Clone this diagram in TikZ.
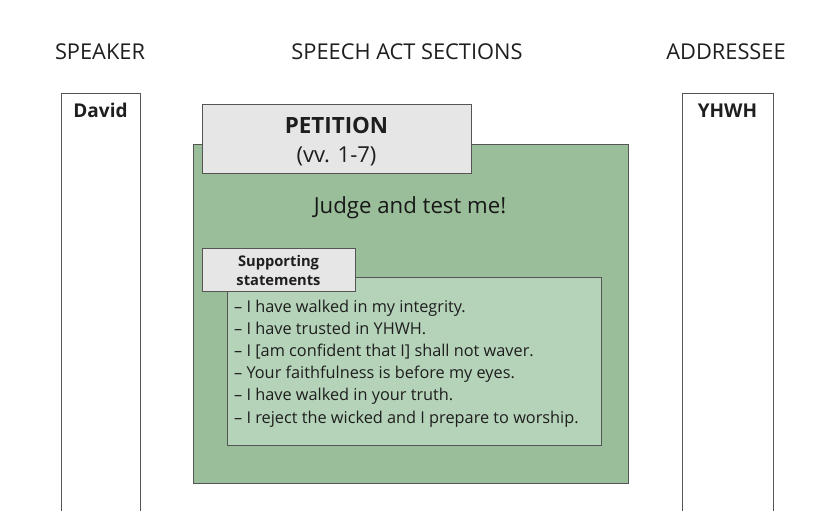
\documentclass[tikz,border=0pt]{standalone}
\usepackage{fontspec}
\setmainfont{Open Sans}
\definecolor{biggreen}{HTML}{99BE99}
\definecolor{smallgreen}{HTML}{B5D3B9}
\definecolor{labelgray}{HTML}{E6E6E6}
\definecolor{edgegray}{HTML}{555555}
\definecolor{ink}{HTML}{1E1E1E}
\begin{document}
\begin{tikzpicture}[x=1pt,y=-1pt,
  header/.style={font=\fontsize{21.8}{25}\selectfont, text=ink},
  colbox/.style={draw=edgegray, line width=1pt},
  tagbox/.style={draw=edgegray, line width=1pt, fill=labelgray, inner sep=0pt},
  namelabel/.style={font=\bfseries\fontsize{19}{22}\selectfont, text=ink}]
\useasboundingbox (0,0) rectangle (825,511);
% headers
\node[header] (hspk) at (100,52) {SPEAKER};
\node[header] (hsec) at (407,52) {SPEECH ACT SECTIONS};
\node[header] (hadr) at (726,52) {ADDRESSEE};
% speaker and addressee columns
\draw[colbox] (61,511) -- (61,94) -- (140,94) -- (140,511);
\node[namelabel] (david) at (100.5,110) {David};
\draw[colbox] (682,511) -- (682,94) -- (773,94) -- (773,511);
\node[namelabel] (yhwh) at (727.5,111) {YHWH};
% big green section
\node[draw=edgegray, line width=1pt, fill=biggreen, minimum width=435pt, minimum height=339pt, inner sep=0pt] (petbox) at (410.5,313.5) {};
\node[tagbox, minimum width=269pt, minimum height=69pt] (pettag) at (336.5,138.5) {};
\node[font=\bfseries\fontsize{22.4}{26}\selectfont, text=ink] (pettitle) at (336.5,125) {PETITION};
\node[font=\fontsize{22}{25}\selectfont, text=ink] (petvv) at (336.5,156.5) {(vv. 1-7)};
\node[font=\fontsize{22.2}{25}\selectfont, text=ink!80!black] (judge) at (410,208) {Judge and test me!};
% supporting statements
\node[draw=edgegray, line width=1pt, fill=smallgreen, minimum width=374pt, minimum height=168pt, inner sep=0pt] (supbox) at (414,361) {};
\node[tagbox, minimum width=153pt, minimum height=43pt, align=center, font=\bfseries\fontsize{14.7}{19}\selectfont, text=ink] (suptag) at (278.5,270) {Supporting\\statements};
\node[anchor=north west, align=left, inner sep=0pt, font=\fontsize{16.3}{22.2}\selectfont, text=ink] (suplist) at (234,299.5) {%
– I have walked in my integrity.\\
– I have trusted in YHWH.\\
– I [am confident that I] shall not waver.\\
– Your faithfulness is before my eyes.\\
– I have walked in your truth.\\
– I reject the wicked and I prepare to worship.};
\end{tikzpicture}
\end{document}
